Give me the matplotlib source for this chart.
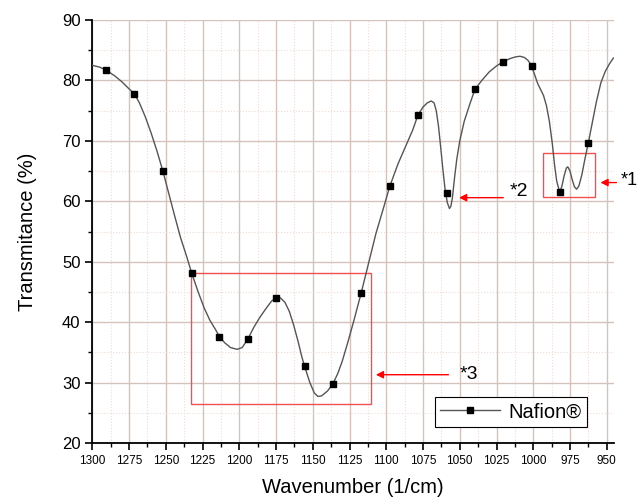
import matplotlib
matplotlib.use("Agg")
import matplotlib.pyplot as plt
from matplotlib.ticker import MultipleLocator

plt.rcParams['font.family'] = ['Liberation Sans', 'DejaVu Sans']

# spectrum trace
wavenumber = [1300, 1295, 1290.7, 1285, 1280, 1275, 1271.4, 1268, 1264, 1260,
              1256, 1252, 1248, 1244, 1240, 1236, 1232.5, 1228, 1224, 1220,
              1216, 1213.5, 1210, 1206, 1201.5, 1198, 1194.2, 1190, 1186, 1182,
              1178, 1175, 1172, 1169, 1166, 1163, 1160, 1157.5, 1155.6, 1152,
              1149, 1146.5, 1144, 1140, 1136.3, 1133, 1130, 1126, 1122, 1117,
              1112, 1107, 1102, 1097.6, 1092, 1087, 1082, 1078.4, 1075, 1072,
              1069.5, 1067.5, 1066, 1064.5, 1063, 1061.5, 1060, 1058.5, 1057, 1056,
              1055, 1053.5, 1052, 1050, 1047, 1043, 1039.7, 1035, 1030, 1025,
              1020.4, 1016, 1012, 1009, 1006, 1003.5, 1001.1, 999, 997, 995,
              993, 991, 989, 987, 985.5, 984, 982, 980.5, 979, 977.5,
              976.5, 975, 973.5, 972, 970.5, 969, 967, 965, 962.5, 960,
              957, 954, 951, 948, 945.5]
transmit = [82.5, 82.2, 81.7, 80.8, 79.8, 78.6, 77.8, 76.3, 74.0, 71.3,
            68.3, 65.0, 61.3, 57.6, 54.0, 51.0, 48.2, 45.0, 42.4, 40.3,
            38.7, 37.6, 36.6, 35.8, 35.5, 35.8, 37.2, 39.2, 40.8, 42.2,
            43.5, 44.0, 44.0, 43.3, 41.8, 39.5, 36.8, 34.3, 32.7, 30.0,
            28.3, 27.7, 27.8, 28.6, 29.8, 31.5, 33.5, 36.8, 40.3, 44.9,
            49.8, 54.7, 58.8, 62.5, 66.2, 69.0, 71.8, 74.3, 75.6, 76.3,
            76.6, 76.3, 75.0, 72.5, 69.0, 65.3, 62.0, 59.8, 58.8, 59.2,
            60.6, 64.0, 67.0, 70.0, 73.2, 76.2, 78.5, 80.0, 81.4, 82.4,
            83.1, 83.6, 83.9, 84.0, 83.8, 83.3, 82.4, 80.9, 79.5, 78.5,
            77.5, 75.8, 73.2, 69.5, 66.0, 63.3, 61.5, 62.5, 64.2, 65.5,
            65.7, 65.0, 63.6, 62.4, 62.0, 62.5, 64.3, 66.8, 69.7, 72.8,
            76.5, 79.6, 81.5, 82.8, 83.7]

# square markers placed on the trace
mark_x = [1290.7, 1271.4, 1252, 1232.5, 1213.5, 1194.2, 1174.9, 1155.6, 1136.3,
          1117, 1097.6, 1078.4, 1059, 1039.7, 1020.4, 1001.1, 981.8, 962.5]
mark_y = [81.7, 77.8, 65.0, 48.2, 37.6, 37.2, 44.0, 32.7, 29.8,
          44.9, 62.5, 74.3, 61.3, 78.5, 83.1, 82.4, 61.6, 69.7]

fig = plt.figure(figsize=(6.39, 5.0), dpi=100)
ax = fig.add_axes([0.1445, 0.114, 0.8165, 0.846])

ax.plot(wavenumber, transmit, color='#555555', lw=1.0, zorder=3)
ax.plot(mark_x, mark_y, ls='none', marker='s', ms=4.5, color='black', zorder=4)
# legend proxy
ax.plot([], [], color='#555555', lw=1.0, marker='s', ms=4.5, mfc='black',
        mec='black', label='Nafion®')

ax.set_xlim(1300, 945)
ax.set_ylim(20, 90)
ax.xaxis.set_major_locator(MultipleLocator(25))
ax.xaxis.set_minor_locator(MultipleLocator(12.5))
ax.yaxis.set_major_locator(MultipleLocator(10))
ax.yaxis.set_minor_locator(MultipleLocator(5))

ax.grid(which='major', color='#d4c3bc', lw=1.0, ls='-', zorder=0)
ax.grid(which='minor', color='#eddcd4', lw=0.8, ls=':', zorder=0)
ax.set_axisbelow(True)

for s in ['top', 'right']:
    ax.spines[s].set_visible(False)
for s in ['left', 'bottom']:
    ax.spines[s].set_linewidth(1.3)
ax.tick_params(which='major', direction='out', length=5, width=1.2)
ax.tick_params(which='minor', direction='out', length=3, width=1.0)
ax.tick_params(axis='x', labelsize=8.5)
ax.tick_params(axis='y', labelsize=12)

ax.set_xlabel('Wavenumber (1/cm)', fontsize=14.5, labelpad=8)
ax.set_ylabel('Transmitance (%)', fontsize=14.5, labelpad=18)

# red annotation boxes
ax.add_patch(plt.Rectangle((1232.9, 26.4), 1110.2 - 1232.9, 48.1 - 26.4,
                           fill=False, ec='#f05050', lw=1.0, zorder=2))
ax.add_patch(plt.Rectangle((993.1, 60.65), 957.8 - 993.1, 68.0 - 60.65,
                           fill=False, ec='#f05050', lw=1.0, zorder=2))

arrow = dict(arrowstyle='-|>', color='red', lw=1.0, mutation_scale=11)
ax.annotate('', xy=(1109, 31.3), xytext=(1055.8, 31.3), arrowprops=arrow)
ax.annotate('', xy=(1052.4, 60.6), xytext=(1018.5, 60.6), arrowprops=arrow)
ax.annotate('', xy=(956.2, 63.1), xytext=(941.5, 63.1), arrowprops=arrow,
            annotation_clip=False)

ax.text(1050.2, 31.4, '*3', fontsize=14, va='center', ha='left')
ax.text(1016.2, 61.6, '*2', fontsize=14, va='center', ha='left')
ax.text(940.5, 63.4, '*1', fontsize=13, va='center', ha='left', clip_on=False)

leg = ax.legend(loc='lower right', bbox_to_anchor=(0.918, 0.147),
                bbox_transform=fig.transFigure, fontsize=14.5, frameon=True,
                fancybox=False, edgecolor='black', framealpha=1,
                handlelength=3.0, borderpad=0.25, handletextpad=0.4,
                borderaxespad=0)
leg.get_frame().set_linewidth(0.8)

fig.savefig('out.png', dpi=100)
